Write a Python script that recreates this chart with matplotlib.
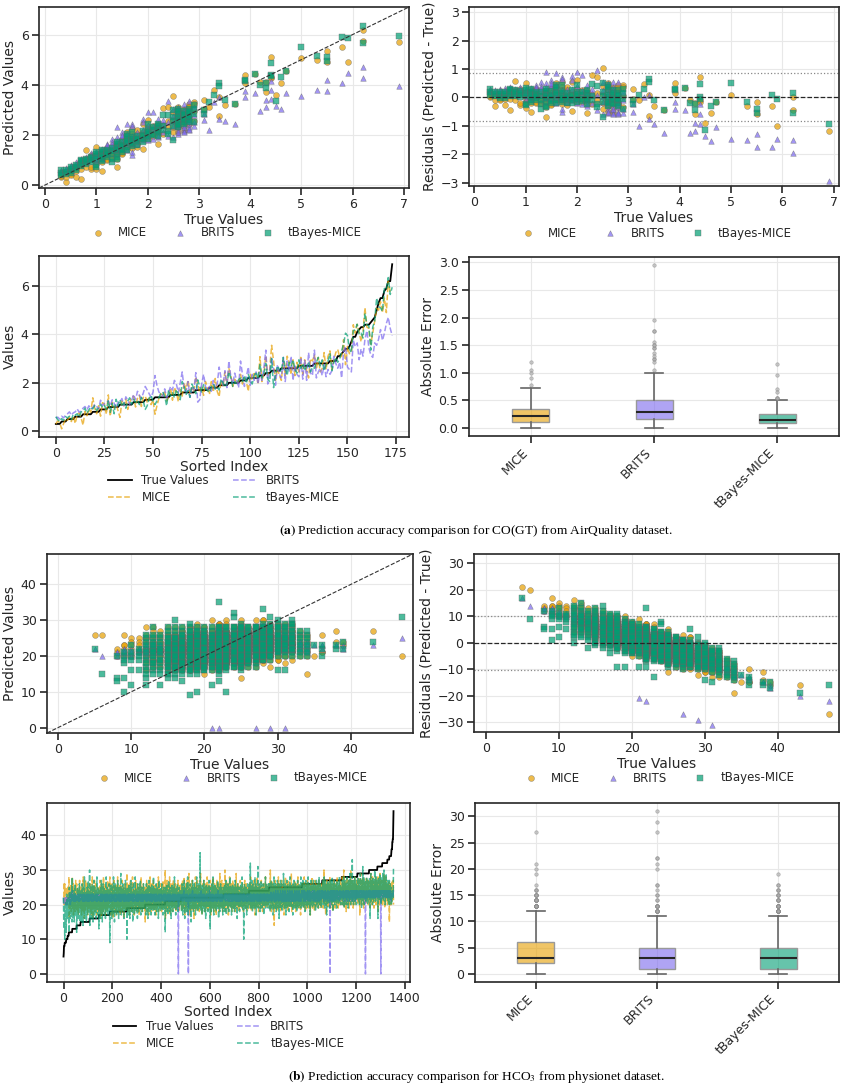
"""
Imputation accuracy figure: CO(GT) (AirQuality) and HCO3 (physionet).
Per panel row: predicted-vs-true scatter, residuals, sorted-index lines, abs-error boxes.
"""

import numpy as np
import matplotlib.pyplot as plt
from matplotlib.colors import to_rgba

plt.rcParams.update({
    'font.family': 'DejaVu Sans',
    'font.size': 9,
    'text.color': '#262626',
    'axes.labelcolor': '#262626',
    'axes.edgecolor': '#262626',
    'axes.linewidth': 1.2,
    'axes.labelpad': 2.5,
    'xtick.color': '#262626',
    'ytick.color': '#262626',
    'xtick.major.width': 1.2,
    'ytick.major.width': 1.2,
    'xtick.major.size': 5,
    'ytick.major.size': 5,
    'xtick.major.pad': 2.5,
    'ytick.major.pad': 2.5,
    'xtick.labelsize': 9,
    'ytick.labelsize': 9,
    'axes.labelsize': 10,
    'legend.fontsize': 8.5,
    'mathtext.fontset': 'stix',
})

METHODS = ['MICE', 'BRITS', 'tBayes-MICE']
COLORS = ['#E69F00', '#7B68EE', '#009E73']
MARKERS = ['o', '^', 's']

# ---- CO(GT), AirQuality: one line per true-value level ----
CO_LEVELS = [0.3, 0.4, 0.5, 0.6, 0.7, 0.8, 0.9, 1.0, 1.1, 1.2, 1.3, 1.4, 1.5, 1.6,
             1.7, 1.8, 1.9, 2.0, 2.1, 2.2, 2.3, 2.4, 2.5, 2.6, 2.7, 2.8, 2.9, 3.1,
             3.2, 3.3, 3.4, 3.5, 3.7, 3.9, 4.1, 4.2, 4.3, 4.4, 4.5, 4.6, 4.7, 5.0,
             5.3, 5.5, 5.8, 5.9, 6.2, 6.9]

CO_MICE = """
0.30 0.42 0.35
0.10 0.31 0.50
0.45 0.58 0.40 0.62
0.32 0.68 0.75 0.55
0.25 0.82 0.64 0.90 0.78
1.38 0.95 0.72 1.05
0.62 1.18 1.12 0.70
1.50 0.62 1.20 0.95 1.10 0.85
0.57 1.25 1.05 1.32 0.90 1.18 1.40
1.45 1.00 1.35 1.48 1.02 1.40
1.45 1.20 1.38 1.10 1.30
0.70 1.05 1.35 1.55 1.48 1.62 1.25 1.40
1.78 1.28 1.80 1.62 1.22 1.72
1.45 2.00 1.72 2.12 1.55 1.80 1.62
2.25 1.95 1.60 1.82 1.48 2.05 1.75
1.52 2.05 1.62 2.18 1.65
1.42 2.10 1.85 2.45 1.95
2.60 2.30 1.85 2.15 1.95 2.05
2.35 1.95 2.20 2.05
1.65 2.35 2.10 2.45 2.25 2.00
3.08 2.05 2.40
3.12 2.30 2.55
3.55 2.90 2.10 2.60 2.30
2.10 2.95 2.30 3.10 2.85 2.35 2.95 2.30 2.85
2.45 3.05 2.35 2.95 2.50 2.20 3.00 2.90
3.15 2.55 3.05 2.45 2.60 3.25 2.55 3.10
3.32 2.55 2.95 3.25
3.38 3.05
3.10
3.78
2.75 3.50
3.20
3.25
4.40 4.05
4.42
4.10
3.70 4.10
5.10 4.30 4.25
3.60
4.05
4.55
5.08
5.00
5.35 4.90
5.50
4.90
6.20 5.75
5.70
"""

CO_BRITS = """
0.55 0.58 0.50
0.62 0.55 0.66
0.72 0.80 0.66 0.76
0.80 0.92 0.78 0.85
0.95 1.02 0.88 1.05 0.92
0.98 1.10 1.02 0.92
1.28 1.05 1.15 1.20
1.25 1.05 1.30 1.15 0.95 1.20
1.20 1.35 1.05 1.42 1.28 1.10 1.25
1.52 1.30 1.65 1.48 1.35 1.58
1.85 1.70 1.55 1.40 1.62
2.30 1.90 1.62 1.55 1.45 1.75 1.38 1.60
1.85 1.70 2.10 1.95 1.60 2.00
2.45 1.75 1.62 2.05 1.40 1.85 1.70
2.42 1.20 1.30 1.95 2.35 1.85 1.65
1.85 1.65 2.10 1.75 1.95
2.65 2.20 1.90 2.50 1.80
2.90 2.25 1.95 2.40 2.10 1.80
2.90 2.35 1.85 2.25
2.65 1.90 2.35 2.10 2.45 1.95
2.45 2.10 2.60
3.35 1.95 2.50
3.05 2.55 1.90 2.75 2.35
2.20 3.05 2.05 2.90 2.45 3.10 2.10 2.75 2.35
2.25 3.05 2.15 2.95 2.10 3.25 2.40 2.30
3.35 2.20 2.45 2.60 2.30 2.75 2.25 2.55
2.35 2.50 3.10 2.80
2.60 2.85
2.20
3.30
3.50 2.65
2.55
2.45
3.75 3.50
3.65
2.95
3.40 3.10
3.80 4.15 3.45
3.15
3.05
3.65
3.55
3.80
4.20 3.75
4.05
4.45
4.70 4.25
3.95
"""

CO_TBAYES = """
0.60 0.48 0.40
0.52 0.45 0.60
0.55 0.62 0.48 0.70
0.66 0.72 0.58 0.80
0.82 0.95 0.74 0.88 1.00
0.92 1.05 0.85 0.98
1.12 0.98 1.06 0.90
1.25 0.78 1.15 0.72 1.32 1.05
1.30 1.02 1.18 0.95 1.25 1.38 1.10
1.32 1.18 1.28 1.10 1.40 1.25
0.90 1.05 1.35 1.48 1.22
1.10 1.25 1.38 1.55 1.62 1.45 1.05 1.70
1.45 1.60 1.38 1.72 1.55 1.30
2.05 1.85 1.52 1.68 1.40 1.95 1.75
1.55 2.12 1.85 1.62 1.92 1.75 1.68
1.60 1.85 1.95 1.75 1.82
1.70 2.15 2.00 1.82 1.95
2.45 2.20 1.85 2.05 1.95 2.12
2.20 2.05 2.30 1.98
2.35 2.10 1.95 2.28 2.45 2.15
2.78 2.20 2.35
2.80 2.15 2.05
3.00 1.80 2.35 2.70 2.55
2.45 3.05 2.60 2.30 2.85 2.70 2.95 2.55 2.40
2.95 2.60 2.80 2.50 2.70 2.85 2.45 2.65
2.60 2.85 3.05 2.70 2.95 2.50 2.75 2.90
3.20 2.50 2.85 3.05
2.85 3.00
3.30
3.60
4.05 3.95
3.40
3.25
4.15 4.20
4.42
4.00
4.05 3.85
4.87 4.40 4.35
3.35
4.30
4.55
5.50
5.15
5.10 4.95
5.90
5.85
6.35 5.65
5.95
"""

CO_BAND = 0.84      # dotted residual band

# ---- HCO3, physionet: one line per true-value level ----
PHY_LEVELS = [5, 6, 8, 9, 10, 11, 12, 13, 14, 15, 16, 17, 18, 19, 20, 21, 22, 23,
              24, 25, 26, 27, 28, 29, 30, 31, 32, 33, 34, 35, 36, 38, 39, 43, 47]

PHY_MICE = """
26
26
21 20 22
26 23 22 21 20 23
25 24 23 20 22 21
25 24 22 21 23
28 25 16 22 20 24 19 23 21 26 18 22 25 20
28 24 19 22 26 17 21 23 25 20 22 18 24 21 27 23 19 22
26 21 18 23 25 20 22 17 24 19 23 21 27 22 20 24
22 19 25 21 17 24 23 20 26 18 22 28 21 19 24 16 23 20 25 22 18 27 21 23 19 24 20 22 26 17 21 25 23 19 22 20 24
23 20 26 18 22 25 21 17 24 19 22 28 20 23 16 25 21 19 24 22 27 20 18 23 21 26 19 22 24 17 21 23 20 25 22 18 24 21
21 25 18 23 20 27 22 16 24 19 22 26 21 17 23 20 25 22 18 28 21 24 19 23 20 26 22 17 21 24 19 23 25 20 22 18 27 21 23 19 24 22 20 26 21
28 22 19 25 21 17 24 20 23 26 18 22 25 20 16 23 21 27 19 24 22 18 25 21 23 20 26 17 22 24 19 21 28 23 20 25 18 22 24 21 19 26 23 17 22 20 25 21 24 18 23 27 20 22 19 25 21 16 24 22 20 26 19 23 21 25 18 22 24 20
29 22 19 24 21 26 18 23 20 25 22 17 24 21 27 20 23 19 25 22 18 24 21 28 20 23 26 19 22 24 17 21 25 23 20 22 27 19 24 21 18 23 26 20 22 25 19 21 24 23 17 22 20 26 21 24 19 23 28 20 22 25 18 23 21 24 20 26 22 19 23 21 25 20 24
15 22 25 19 23 21 27 20 24 18 22 26 21 23 17 25 20 22 24 19 28 21 23 20 26 18 22 24 21 19 25 23 20 27 22 18 24 21 23 26 19 22 20 25 17 23 21 24 22 19 26 20 23 21 28 18 22 25 20 24 21 19 23 26 22 20 24 18 25 21 23 22 19 27 20 24 22 21 25 19 23 22
30 16 23 20 25 22 19 27 21 24 18 23 26 20 22 25 19 21 28 23 17 24 22 20 26 21 23 19 25 22 18 24 21 27 20 23 22 19 25 21 24 20 26 22 18 23 21 25 20 24 22 19 27 21 23 20 25 22 18 24 21 26 23 20 22
24 20 26 22 18 23 27 21 25 19 22 24 20 28 23 17 21 25 22 19 26 23 20 24 21 27 18 22 25 20 23 21 29 19 24 22 17 25 21 23 20 26 22 18 24 21 27 23 19 22 25 20 23 16 24 21 26 22 19 28 20 23 25 21 18 24 22 27 20 23 19 25 21 22 26 18 24 20 23 21 29 22 19 25 20 24 17 23 21 26 22 20 24 19 27 21 23 25 18 22 20 24 26 21 19 23 22 28 20 25 21 18 24 22 26 19 23 21 25 20 27 22 17 24 21 23 19 26 22 20 25 21 28 23 18 22 24 20 26 21 19 23 25 22 17 24 20 27 21 23 22 19 25 20 24 26 18 22 21 29 23 20 24 19 25 21 22 27 20 23 18 24 21 26 22 19 23 20 25 22
23 19 26 21 24 20 30 22 18 25 21 23 27 20 24 22 19 26 21 23 17 25 22 20 24 28 21 23 19 25 22 20 26 21 24 18 23 22 27 20 24 21 19 25 23 22 20 26 18 24 21 23 29 20 22 25 19 24 21 23 26 20 22 18 25 21 24 23 19 27 22 20 24 21 25 23 19 22 26 20 24 21 18 23 25 22 20 27 21 24 19 23 22 26 20 25 21 23 18 24 22 20 25 21 23
24 21 26 19 23 22 28 20 25 21 18 24 23 20 26 22 19 25 21 27 23 20 24 22 17 25 21 23 26 20 22 24 19 28 21 23 25 20 22 18 24 21 26 23 20 25 22 19 24 21 27 23 20 22 25 18 24 21 23 26 20 22 24 19 25 21 23 28 22 20 24 21 26 19 23 22 25 20 24 21 23 22
22 26 19 24 21 30 23 20 25 18 22 27 21 24 20 23 26 19 22 25 21 14 24 22 20 27 23 19 25 21 24 22 18 26 20 23 25 21 28 22 19 24 21 26 23 20 22 25 18 24 21 27 23 20 25 22 19 24 21 26 23 17 22 25 20 24 21 28 23 19 22 26 20 24 21 23 25 18 22 27 21 24 20 23 26 22 19 25 21 24 20 29 23 18 22 25 21 24 20 26 22 19 23 25 21 27 20 24 22 18 26 21 23 25 19 22 24 20 28 23 21 25 19 24 22 20 26 21 23 17 25 22 24 20 26 23
23 20 26 22 25 19 24 21 28 23 20 25 22 18 24 26 21 23 19 25 22 27 20 24 21 23 26 19 22 25 20 24 22 17 26 23 21 25 20 28 22 24 19 23 21 26 22 20 25 23 18 24 21 27 22 20 25 23 19 24 22 26 21 23 20 25 22 19 27 24 21 23 20 26 22 24 19 25 21 23 22 26
24 21 27 23 19 25 22 30 20 24 22 26 21 23 17 25 22 24 20 27 23 21 25 19 24 22 26 20 23 25 21 28 22 24 19 23 26 21 25 22 20 24 23 18 26 22 24 21 27 23 20 25 22 19 24 26 21 23 25 20 22 28 24 21 23 19 25 22 26 20 24 23 21 27 22 25 20 24 23 22
25 22 28 23 20 26 24 21 30 23 19 25 22 27 24 21 26 23 18 25 22 28 24 20 26 23 21 25 22 27 19 24 23 26 21 25 22 30 23 20 26 24 22 25 21 27 23 19 25 22 26 24 21 28 23 20 25 22 26 24 21 23 27 22
23 26 20 25 22 28 24 21 27 23 17 25 22 29 24 21 26 23 20 25 27 22 24 21 28 23 19 25 22 26 24 21 27 23 20 25 22 28 24 21 26 23 25 22 27 20 24 23
24 20 27 23 19 25 22 29 24 21 26 23 20 25 28 22 24 21 27 23 19 25 22 26 24 21 28 23 20 25 22 27 24 23
25 22 28 18 24 21 27 23 26 20 25 29 22 24 21 27 23 25 20 24
24 20 27 23 26 21 25 29 22 24 19 27 23 25 21 28 24 22 26 23 25
20 24 22 26 21 25 23 27
15 21 24 26 22 20 25 23
20
26 21 21
27 24
23 24
27
20
"""

PHY_BRITS = """
22
20
20 21 21
21 22 21 22 20 21
21 20 21 22 21 20
21 22 22 21 22
22 21 22 23 21 22 20 22 21 23 22 21 22 22
24 21 22 22 23 21 22 21 22 23 22 21 22 22 21 23 22 22
22 23 22 21 22 23 22 22 21 22 23 22 21 22 22 23
22 22 23 21 22 22 23 22 21 22 23 22 22 21 22 23 22 22 21 23 22 22 21 22 23 22 21 22 22 23 22 21 22 22 23 22 21
22 23 22 21 22 22 23 22 21 22 22 23 22 22 21 23 22 22 21 22 23 22 22 21 22 23 22 21 22 22 23 22 21 22 23 22 22 21
22 22 23 22 21 22 23 22 22 21 22 23 22 22 21 22 23 22 21 22 22 23 22 22 21 22 23 22 21 22 22 23 22 22 21 22 23 22 21 22 22 23 22 21 22
22 23 22 21 22 22 23 22 21 22 23 22 22 21 22 23 22 22 21 22 23 23 22 21 22 22 23 22 21 22 23 22 22 21 22 23 22 22 21 22 23 22 21 22 22 23 22 21 22 23 22 22 21 22 23 22 22 21 22 23 22 21 22 22 23 22 22 21 22 23
22 22 23 22 21 22 23 22 22 21 23 22 22 23 21 22 22 23 22 21 22 23 22 22 21 22 23 22 22 21 23 22 22 21 22 23 22 22 21 22 23 22 22 21 22 23 22 21 22 22 23 22 22 21 22 23 22 21 22 23 22 22 21 22 23 22 22 21 22 23 22 21 22 22 23
22 23 22 22 21 22 23 22 21 22 22 23 22 22 21 23 22 22 21 22 23 22 22 23 21 22 22 23 22 21 22 23 22 22 21 22 23 22 22 21 22 23 22 21 22 22 23 22 22 21 22 23 22 22 21 22 23 22 21 22 22 23 22 22 21 22 23 22 21 22 23 22 22 21 22 23 22 22 21 22 23 22
22 23 22 21 22 23 22 22 21 22 23 22 22 21 22 23 22 21 22 22 23 22 22 21 22 23 22 21 22 22 23 22 22 21 22 23 22 22 21 22 23 22 21 22 22 23 22 22 21 22 23 22 22 21 0 23 22 21 22 22 23 22 22 21 22
22 23 22 21 22 23 22 22 21 22 23 22 24 21 22 23 22 22 21 22 23 22 21 22 22 23 22 22 21 22 0 23 22 22 21 22 23 22 21 22 22 23 22 22 21 22 23 24 22 21 22 23 22 21 22 22 23 22 22 21 22 23 22 22 21 22 23 22 21 22 22 23 22 22 21 22 23 22 22 21 22 23 24 21 22 22 23 22 22 21 22 23 22 21 22 22 23 22 22 21 22 23 22 22 21 22 23 22 21 22 22 23 22 22 21 22 23 24 22 21 22 23 22 21 22 22 23 22 22 21 22 23 22 22 21 22 23 22 21 22 22 23 22 22 21 22 23 22 22 21 22 23 24 21 22 22 23 22 22 21 22 23 22 21 22 22 23 22 22 21 22 23 22 22
22 23 22 22 21 23 22 23 22 21 22 23 22 23 21 22 22 23 22 21 23 22 22 23 21 22 23 22 22 21 23 22 22 23 21 22 23 22 22 21 23 22 23 22 21 22 23 22 22 21 23 22 22 23 21 22 23 22 22 21 23 22 23 22 21 22 23 22 22 21 23 22 22 23 21 22 23 22 22 21 23 22 23 22 21 22 23 22 22 21 23 22 22 23 21 22 23 22 22 21 23 22 23 22 21
23 22 22 23 21 22 23 22 23 22 21 23 22 22 23 22 21 23 22 23 22 22 21 23 22 23 22 21 22 23 22 23 22 21 23 22 22 23 22 21 23 22 23 22 22 21 23 22 23 22 21 22 23 22 23 22 21 23 22 22 23 22 21 23 22 23 22 22 21 23 22 23 22 21 22 23 22 23 22 21 23 22
22 23 23 22 21 23 22 24 22 23 21 22 23 23 22 21 23 22 24 22 23 22 21 23 22 23 22 24 21 23 22 23 22 21 23 22 24 22 23 21 22 23 23 22 21 23 22 24 22 23 22 21 23 22 23 22 24 21 23 22 23 22 21 23 22 24 22 23 21 22 23 23 22 21 23 22 24 22 23 22 21 23 22 23 22 24 21 23 22 23 22 21 23 22 24 22 23 21 22 23 23 22 21 23 22 24 22 23 22 21 23 22 23 22 24 21 23 22 23 22 21 23 22 24 22 23 21 22 23 23 22 21 23 22 24 22
23 22 23 24 22 23 21 23 22 24 23 22 23 21 22 23 24 22 23 22 21 23 24 22 23 22 23 21 22 24 23 22 23 22 21 23 24 22 23 22 23 21 22 24 23 22 23 22 21 23 24 22 23 22 23 21 22 24 23 22 23 22 21 23 24 22 23 22 23 21 22 24 23 22 23 22 21 23 24 22 23 22
23 22 24 23 22 23 21 24 23 22 23 22 24 23 21 23 22 24 23 22 23 22 21 24 23 22 23 22 24 23 21 23 0 22 24 23 22 23 22 21 24 23 22 23 22 24 23 21 23 22 24 23 22 23 22 21 24 23 22 23 22 24 23 21 23 22 24 23 22 23 22 21 24 23 22 23 22 24 23 22
23 24 22 23 23 22 24 23 21 23 24 22 23 23 22 24 23 22 23 24 21 23 23 22 24 23 22 23 24 22 23 23 21 24 23 22 23 24 22 23 23 22 24 23 21 23 24 22 23 23 22 24 23 22 23 24 21 23 23 22 24 23 22 23
23 24 23 22 23 24 23 22 24 23 23 22 24 23 22 23 24 23 22 23 24 23 22 24 23 23 22 24 23 22 23 24 23 0 22 23 24 23 22 24 23 23 22 24 23 22 23 24
23 24 23 22 24 23 23 22 24 23 24 22 23 24 23 22 24 23 23 22 24 23 24 22 23 24 23 22 24 23 23 22 24 23
23 24 23 22 24 23 24 22 23 24 23 22 24 23 0 24 23 22 24 23
23 24 23 24 22 23 24 23 24 22 23 24 23 24 22 23 24 23 24 22 23
23 24 22 23 24 23 22 24
22 23 24 23 22 24 23 21
23
23 22 23
23 23
23 22
23
25
"""

PHY_TBAYES = """
22
15
14 13 20
10 14 18 20 21 19
12 16 23 20 19 21
16 21 22 19 20
12 14 25 17 20 22 16 24 19 21 18 23 26 15
28 25 16 20 23 18 21 24 15 22 19 26 17 22 20 23 21 18
12 22 19 25 17 21 24 16 20 23 18 26 21 15 22 19
21 17 24 19 15 22 26 18 20 23 14 21 25 19 22 17 28 20 16 23 21 18 24 20 15 22 19 25 21 17 23 20 27 18 22 19 24
30 14 22 19 25 17 21 23 16 20 26 18 22 24 15 21 19 27 20 23 17 22 25 18 21 19 24 16 22 20 28 19 23 21 17 25 20 22
13 21 24 18 22 16 25 20 23 19 27 17 21 24 15 22 20 26 18 23 21 19 25 17 22 20 24 16 23 21 28 19 22 18 25 20 23 17 21 24 19 22 26 20 18
9 21 24 18 22 26 19 23 16 21 25 20 17 23 22 28 19 21 24 15 22 20 26 18 23 21 19 25 17 22 24 20 27 18 21 23 16 22 25 19 21 24 20 18 23 29 21 17 22 24 19 23 20 26 18 21 25 22 16 23 20 24 19 22 27 21 18 23 20 22
10 22 25 19 23 17 21 24 20 26 18 22 16 23 21 25 19 27 20 22 24 18 21 23 15 22 26 20 19 24 21 17 23 22 28 20 25 18 21 23 19 24 22 16 21 26 20 23 18 22 25 21 19 24 20 27 22 17 23 21 25 19 22 24 18 21 23 20 26 22 19 24 21 23 20
22 19 24 17 21 26 20 23 18 22 25 16 21 24 20 27 19 22 23 18 21 25 20 24 17 22 19 26 21 23 20 18 24 22 28 19 21 23 20 25 17 22 24 19 21 26 20 23 18 22 25 21 19 24 16 22 20 27 21 23 19 24 22 18 25 20 23 21 26 19 22 24 20 17 23 21 25 22 19 24 20 22
12 22 25 19 23 21 26 18 22 24 20 17 23 21 27 19 22 24 20 25 18 22 21 24 16 23 20 26 19 22 24 21 18 23 20 25 22 19 28 21 23 20 24 17 22 25 21 19 23 20 26 22 18 24 21 23 19 25 20 22 24 21 23 20 22
21 24 18 22 26 20 23 17 25 21 19 24 22 27 20 16 23 21 25 19 22 24 18 26 21 23 20 28 22 17 24 21 19 25 23 20 22 26 18 21 24 15 23 20 25 22 19 27 21 23 18 24 20 22 26 19 21 25 23 17 22 20 24 21 28 19 23 22 25 18 21 24 20 26 22 19 23 21 35 20 24 18 22 25 21 23 17 26 20 22 24 19 21 27 23 20 18 24 22 25 21 16 23 20 26 19 22 24 21 23 18 25 20 22 27 21 19 24 22 13 23 20 25 21 18 24 22 26 19 23 21 28 20 24 17 22 25 21 23 19 26 20 22 24 18 21 25 23 20 22 27 19 24 21 16 23 22 25 20 18 24 21 26 22 19 23 20 25 21 24 22 17 23 20 26 21 24 19 22 25
22 25 19 23 21 26 18 24 20 22 27 21 17 23 25 20 22 24 19 26 21 23 18 25 22 20 24 28 21 19 23 22 25 17 24 20 22 26 21 23 19 25 22 20 24 18 23 21 27 22 19 24 20 25 23 21 16 22 26 20 24 21 23 19 25 22 18 24 21 23 20 26 22 19 24 21 28 23 20 22 25 18 24 10 23 21 26 20 22 24 19 23 21 25 22 17 24 20 23 26 21 22 19 25 22
23 26 20 24 21 32 22 19 25 23 20 27 21 24 18 22 26 20 23 25 21 19 24 22 28 20 23 21 26 17 24 22 20 25 23 21 31 19 24 22 26 20 23 21 25 18 22 24 20 27 23 21 19 25 22 24 20 26 21 23 17 24 22 25 20 23 21 28 19 24 22 26 20 23 25 21 22 24 19 26 23 21
24 20 26 22 18 25 23 21 27 19 24 22 26 20 23 25 17 22 24 21 28 23 19 25 22 20 26 24 21 18 23 25 22 20 27 24 19 23 21 26 22 16 24 25 21 23 19 27 22 24 20 26 23 21 18 25 22 24 20 29 23 21 25 19 22 26 24 20 23 17 25 22 21 27 24 19 23 26 22 20 25 23 18 24 21 28 22 25 20 23 26 19 24 22 21 25 23 17 26 22 24 20 27 23 21 25 19 24 22 26 20 23 25 21 18 24 22 27 20 23 25 21 19 26 24 22 20 25 23 21 28 19 24 22 20 26
24 21 27 23 19 25 22 26 20 24 23 18 25 21 27 24 22 20 26 23 25 19 24 22 28 21 23 25 20 26 24 22 17 25 23 21 27 24 20 22 26 23 19 25 24 21 27 22 20 25 23 26 21 24 18 23 25 22 27 20 24 23 21 26 22 19 25 24 21 28 23 20 25 22 26 24 21 23 19 25 22 24
25 22 27 23 20 26 24 21 28 23 19 25 22 27 24 21 26 23 17 25 22 24 20 27 23 25 21 26 24 22 19 25 23 27 21 24 26 22 20 25 23 28 22 24 18 26 23 25 21 24 27 22 20 25 23 26 21 24 22 19 27 23 25 21 24 26 22 20 25 23 28 21 24 22 26 23 20 25 24 22
24 21 27 23 25 20 26 22 28 24 19 25 23 27 21 24 26 22 20 25 23 28 24 21 26 22 19 25 27 23 21 24 26 22 29 25 20 23 27 24 22 26 21 33 24 22 27 23 20 25 26 22 24 28 21 23 25 27 22 24 20 26 23 25
25 22 28 24 21 27 23 26 20 25 24 22 29 23 21 26 24 19 27 23 25 22 31 24 21 26 23 28 20 25 24 22 27 23 26 21 25 24 28 22 23 26 20 25 27 23 24 22
25 22 28 24 16 26 23 29 21 25 24 27 22 26 20 25 28 23 24 21 27 25 22 30 24 23 26 21 25 28 22 24 26 23
24 27 16 25 22 28 24 21 26 23 29 25 22 27 24 20 26 23 28 25
26 23 29 24 21 27 25 30 22 26 24 28 20 25 27 23 29 24 26 22 25
26 22 27 21 24 20 25 23
27 20 24 22 26 21 25 23
23
20 22 23
22 23
24 22
24
31
"""

PHY_BAND = 10.2     # dotted residual band


def parse_block(block):
    return [[float(v) for v in line.split()] for line in block.strip().splitlines()]


def build(levels, *blocks):
    rows = [parse_block(b) for b in blocks]
    true, preds = [], [[] for _ in blocks]
    for i, lv in enumerate(levels):
        n = min(len(r[i]) for r in rows)
        true += [lv] * n
        for k, r in enumerate(rows):
            preds[k] += r[i][:n]
    return np.array(true), [np.array(p) for p in preds]


co_true, co_preds = build(CO_LEVELS, CO_MICE, CO_BRITS, CO_TBAYES)
phy_true, phy_preds = build(PHY_LEVELS, PHY_MICE, PHY_BRITS, PHY_TBAYES)

W, H = 847, 1091
fig = plt.figure(figsize=(W / 100, H / 100), dpi=100)


def add_ax(box):
    x0, y0, x1, y1 = box
    ax = fig.add_axes([x0 / W, 1 - y1 / H, (x1 - x0) / W, (y1 - y0) / H])
    ax.set_axisbelow(True)
    ax.grid(True, color='#e8e8e8', lw=0.8)
    return ax


def leg_y(box, y_px):
    return (box[3] - y_px) / (box[3] - box[1])


def scatter_legend(ax, box, ly):
    ax.legend(loc='center', bbox_to_anchor=(0.5, leg_y(box, ly)), ncol=3,
              frameon=False, columnspacing=1.8, handletextpad=0.7)


def scatter_panel(box, true, preds, lim, ticks, ly):
    ax = add_ax(box)
    for p, name, c, m in zip(preds, METHODS, COLORS, MARKERS):
        ax.scatter(true, p, s=18 if m != '^' else 16, marker=m, color=c, alpha=0.7,
                   edgecolors='#666666', linewidths=0.35, label=name, zorder=3)
    ax.plot(lim, lim, ls='--', color='#333333', lw=0.8, zorder=4)
    ax.set_xlim(lim)
    ax.set_ylim(lim)
    ax.set_xticks(ticks)
    ax.set_yticks(ticks[::2] if len(ticks) > 6 else ticks)
    ax.set_xlabel('True Values', labelpad=1)
    ax.set_ylabel('Predicted Values')
    scatter_legend(ax, box, ly)
    return ax


def residual_panel(box, true, preds, xlim, ylim, band, xticks, yticks, ly):
    ax = add_ax(box)
    for p, name, c, m in zip(preds, METHODS, COLORS, MARKERS):
        ax.scatter(true, p - true, s=18 if m != '^' else 16, marker=m, color=c, alpha=0.7,
                   edgecolors='#666666', linewidths=0.35, label=name, zorder=3)
    ax.axhline(0, ls='--', color='#262626', lw=0.9, zorder=4)
    for yv in (band, -band):
        ax.axhline(yv, ls=':', color='#888888', lw=0.9, zorder=2)
    ax.set_xlim(xlim)
    ax.set_ylim(ylim)
    ax.set_xticks(xticks)
    ax.set_yticks(yticks)
    ax.set_xlabel('True Values', labelpad=1)
    ax.set_ylabel('Residuals (Predicted - True)')
    scatter_legend(ax, box, ly)
    return ax


def sorted_panel(box, true, preds, xticks, yticks, ly):
    ax = add_ax(box)
    idx = np.arange(len(true))
    ax.plot(idx, true, color='black', lw=1.3, label='True Values', zorder=3)
    for p, name, c in zip(preds, METHODS, COLORS):
        ax.plot(idx, p, ls='--', color=c, lw=1.1, alpha=0.7, label=name, zorder=3)
    ax.set_xticks(xticks)
    ax.set_yticks(yticks)
    ax.set_xlabel('Sorted Index', labelpad=0)
    ax.set_ylabel('Values')
    ax.legend(loc='center', bbox_to_anchor=(0.5, leg_y(box, ly)), ncol=2,
              frameon=False, columnspacing=2.0, labelspacing=0.3)
    return ax


def box_panel(box, true, preds, yticks):
    ax = add_ax(box)
    errs = [np.abs(p - true) for p in preds]
    bp = ax.boxplot(errs, positions=[0, 1, 2], widths=0.3, patch_artist=True,
                    medianprops=dict(color='#262626', lw=1.5),
                    whiskerprops=dict(color='#666666', lw=1.2),
                    capprops=dict(color='#666666', lw=1.2),
                    boxprops=dict(edgecolor='#999999', lw=1.0),
                    flierprops=dict(marker='o', markersize=2.5, markerfacecolor='#aaaaaa',
                                    markeredgecolor='#888888', markeredgewidth=0.5, alpha=0.6))
    for patch, c in zip(bp['boxes'], COLORS):
        patch.set_facecolor(to_rgba(c, 0.6))
    ax.set_xlim(-0.5, 2.5)
    ax.set_yticks(yticks)
    ax.set_xticks([0, 1, 2])
    ax.set_xticklabels(METHODS, rotation=45, ha='right')
    ax.set_ylabel('Absolute Error')
    return ax


# ---- (a) CO(GT) ----
scatter_panel((39, 7, 409, 188), co_true, co_preds, (-0.12, 7.1), list(range(8)), 233)
residual_panel((469, 7, 839, 186), co_true, co_preds, (-0.1, 7.1), (-3.12, 3.18), CO_BAND,
               list(range(8)), list(range(-3, 4)), 233)
sorted_panel((39, 256, 409, 437), co_true, co_preds, list(range(0, 176, 25)), [0, 2, 4, 6], 489)
box_panel((469, 257, 839, 436), co_true, co_preds, np.arange(0, 3.01, 0.5))

# ---- (b) HCO3 ----
scatter_panel((47, 554, 413, 733), phy_true, phy_preds, (-1.5, 48.5), [0, 10, 20, 30, 40], 778)
residual_panel((474, 554, 839, 732), phy_true, phy_preds, (-1.65, 48.4), (-33.7, 33.5), PHY_BAND,
               [0, 10, 20, 30, 40], list(range(-30, 31, 10)), 778)
sorted_panel((47, 803, 410, 982), phy_true, phy_preds, list(range(0, 1401, 200)),
             [0, 10, 20, 30, 40], 1035)
box_panel((475, 803, 839, 982), phy_true, phy_preds, list(range(0, 31, 5)))

# ---- captions ----
cap_kw = dict(ha='center', va='center', fontsize=9.6, family='Liberation Serif', color='black')
fig.text(476 / W, 1 - 531 / H,
         r'$\mathbf{(a)}$ Prediction accuracy comparison for CO(GT) from AirQuality dataset.', **cap_kw)
fig.text(476 / W, 1 - 1077 / H,
         r'$\mathbf{(b)}$ Prediction accuracy comparison for HCO$_3$ from physionet dataset.', **cap_kw)

fig.savefig('out.png', dpi=100, facecolor='white')
